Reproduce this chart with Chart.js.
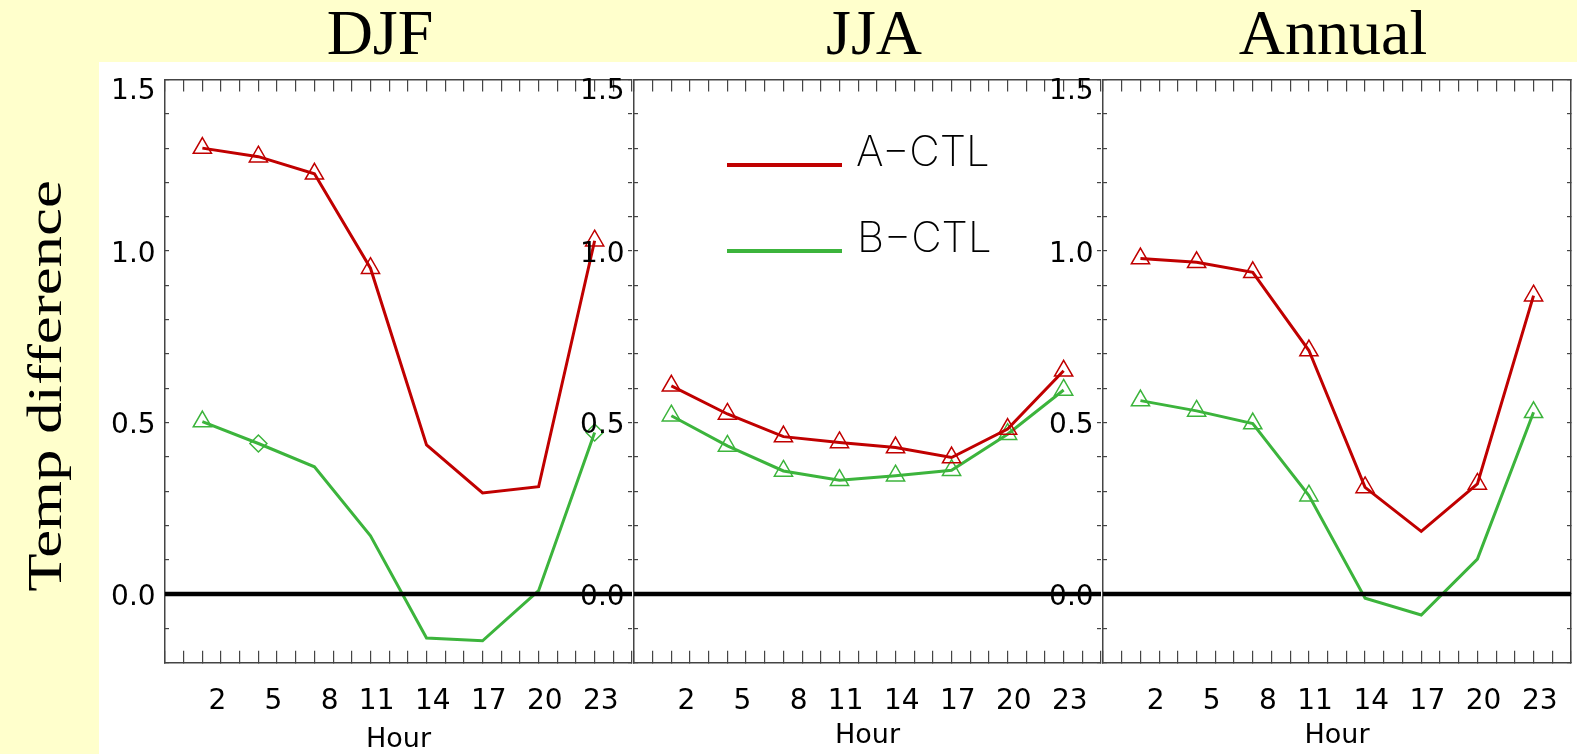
<!DOCTYPE html>
<html>
<head>
<meta charset="utf-8">
<title>Temp difference by hour</title>
<script src="https://cdn.jsdelivr.net/npm/chart.js@4.4.1/dist/chart.umd.min.js"></script>
<style>
  html, body { margin: 0; padding: 0; }
  body { width: 1577px; height: 754px; background: #ffffcc; position: relative; overflow: hidden; }
  #white { position: absolute; left: 99px; top: 62px; right: 0; bottom: 0; background: #fff; }
  .panel { position: absolute; top: 62px; height: 692px; }
  .title { position: absolute; top: 1px; font-family: 'Liberation Serif', 'Times New Roman', serif; font-size: 64px; line-height: 64px; white-space: nowrap; transform: translateX(-50%); color: #000; }
  #ylabel { position: absolute; left: 45px; top: 386px; font-family: 'Liberation Serif', 'Times New Roman', serif; font-size: 48px; line-height: 48px; white-space: nowrap; transform: translate(-50%, -50%) rotate(-90deg) scaleX(1.31); }
  .key-line { position: absolute; height: 4px; width: 115px; left: 727px; }
  .key-text { position: absolute; font-family: 'Inter', 'DejaVu Sans', sans-serif; font-weight: 200; font-size: 42px; line-height: 42px; white-space: nowrap; color: #000; }
</style>
</head>
<body>
<div id="white"></div>
<div id="ylabel">Temp difference</div>

<script>
const hours = [2, 5, 8, 11, 14, 17, 20, 23];
const seasons = ['DJF', 'JJA', 'Annual'];
const seriesNames = ['A−CTL', 'B−CTL'];

const djfA = [1.30, 1.275, 1.225, 0.95, 0.435, 0.295, 0.313, 1.03];
const djfB = [0.503, 0.439, 0.371, 0.17, -0.128, -0.136, 0.01, 0.471];
const jjaA = [0.607, 0.525, 0.459, 0.442, 0.427, 0.398, 0.481, 0.651];
const jjaB = [0.520, 0.432, 0.359, 0.332, 0.345, 0.361, 0.466, 0.595];
const annA = [0.978, 0.967, 0.938, 0.71, 0.311, 0.183, 0.321, 0.870];
const annB = [0.564, 0.534, 0.497, 0.287, -0.012, -0.061, 0.102, 0.530];

// marker at each hour: t = triangle, d = diamond, '' = none
const djfAMarks = ['t', 't', 't', 't', '', '', '', 't'];
const djfBMarks = ['t', 'd', '', '', '', '', '', 'd'];
const jjaAMarks = ['t', 't', 't', 't', 't', 't', 't', 't'];
const jjaBMarks = ['t', 't', 't', 't', 't', 't', 't', 't'];
const annAMarks = ['t', 't', 't', 't', 't', '', 't', 't'];
const annBMarks = ['t', 't', 't', 't', '', '', '', 't'];

const hourTicks = [2, 5, 8, 11, 14, 17, 20, 23];
const tempTicks = ['0.0', '0.5', '1.0', '1.5'];
const hourRange = [0, 25];
const tempRange = [-0.2, 1.5];
const zeroLine = [0, 0];

const RED = '#c00000';
const GREEN = '#3cb43c';
const AXIS = '#444';

const panels = [
  { name: seasons[0], a: djfA, b: djfB, aMarks: djfAMarks, bMarks: djfBMarks },
  { name: seasons[1], a: jjaA, b: jjaB, aMarks: jjaAMarks, bMarks: jjaBMarks },
  { name: seasons[2], a: annA, b: annB, aMarks: annAMarks, bMarks: annBMarks }
];
const panelLeft = [165, 634, 1103];
const panelWidth = [469, 469, 470];
const titleCenter = [380, 874, 1333];
const hourPadBottom = [0.7, 4.7, 4.7];

Chart.defaults.font.family = "'DejaVu Sans', sans-serif";
Chart.defaults.color = '#000';

function fixSize(prop, size) {
  return s => {
    s[prop] = size;
    s.paddingLeft = s.paddingRight = s.paddingTop = s.paddingBottom = 0;
  };
}

function series(label, vals, marks, color) {
  const radius = c => (marks[c.dataIndex] === 'd' ? 8.5 : marks[c.dataIndex] ? 10.5 : 0);
  return {
    label: label,
    data: hours.map((h, i) => ({ x: h, y: vals[i] })),
    borderColor: color,
    borderWidth: 3,
    backgroundColor: 'transparent',
    tension: 0,
    pointBorderColor: color,
    pointBackgroundColor: 'transparent',
    pointBorderWidth: 1.5,
    pointStyle: c => (marks[c.dataIndex] === 'd' ? 'rectRot' : 'triangle'),
    pointRadius: radius,
    pointHoverRadius: radius
  };
}

const gridInward = len => ({
  display: true,
  drawOnChartArea: false,
  drawTicks: true,
  tickLength: len,
  color: AXIS,
  lineWidth: 1.2
});
const border = { display: true, color: AXIS, width: 1.5 };

panels.forEach((p, k) => {
  const title = document.createElement('div');
  title.className = 'title';
  title.style.left = titleCenter[k] + 'px';
  title.textContent = p.name;
  document.body.appendChild(title);

  const wrap = document.createElement('div');
  wrap.className = 'panel';
  wrap.style.left = (panelLeft[k] - 80) + 'px';
  wrap.style.width = (panelWidth[k] + 90) + 'px';
  const canvas = document.createElement('canvas');
  wrap.appendChild(canvas);
  document.body.appendChild(wrap);

  const lastPanel = k === panels.length - 1;

  new Chart(canvas, {
    type: 'line',
    data: {
      datasets: [
        {
          label: 'zero',
          data: hourRange.map((h, i) => ({ x: h, y: zeroLine[i] })),
          borderColor: '#000',
          borderWidth: 4.5,
          pointRadius: 0,
          pointHoverRadius: 0
        },
        series(seriesNames[0], p.a, p.aMarks, RED),
        series(seriesNames[1], p.b, p.bMarks, GREEN)
      ]
    },
    options: {
      responsive: true,
      maintainAspectRatio: false,
      animation: false,
      events: [],
      layout: { padding: 0 },
      plugins: { legend: { display: false }, tooltip: { enabled: false } },
      scales: {
        x: {
          type: 'linear',
          position: 'bottom',
          min: hourRange[0],
          max: hourRange[1],
          grid: gridInward(-12),
          border: border,
          ticks: {
            stepSize: 1,
            maxTicksLimit: 100,
            autoSkip: false,
            maxRotation: 0,
            minRotation: 0,
            align: 'end',
            labelOffset: 24,
            padding: 37,
            font: { size: 28, lineHeight: 1 },
            callback: v => (hourTicks.includes(v) ? String(v) : '')
          },
          title: {
            display: true,
            text: 'Hour',
            font: { size: 27, lineHeight: 1 },
            padding: { top: 0, bottom: hourPadBottom[k] }
          },
          afterFit: fixSize('height', 91.3)
        },
        x2: {
          type: 'linear',
          position: 'top',
          min: hourRange[0],
          max: hourRange[1],
          grid: gridInward(-12),
          border: border,
          ticks: { display: false, stepSize: 1, maxTicksLimit: 100, autoSkip: false },
          afterFit: fixSize('height', 17.5)
        },
        y: {
          type: 'linear',
          position: 'left',
          min: tempRange[0],
          max: tempRange[1],
          grid: gridInward(-4),
          border: border,
          ticks: {
            stepSize: 0.1,
            autoSkip: false,
            padding: 13.4,
            labelOffset: 3.5,
            font: { size: 28, lineHeight: '18px' },
            callback: v => {
              const t = Math.round(v * 10);
              if (t % 5 !== 0) return '';
              const label = tempTicks[t / 5];
              return t / 5 === tempTicks.length - 1 ? ['', label] : label;
            }
          },
          afterFit: fixSize('width', 80)
        },
        y2: {
          type: 'linear',
          position: 'right',
          min: tempRange[0],
          max: tempRange[1],
          grid: gridInward(-4),
          border: { display: lastPanel, color: AXIS, width: 1.5 },
          ticks: { display: false, stepSize: 0.1, autoSkip: false },
          afterFit: fixSize('width', 10)
        }
      }
    }
  });
});

// legend inside the JJA panel
const keyColors = [RED, GREEN];
const keyLineTop = [163, 248.7];
const keyTextPos = [[856, 130], [857, 216]];
seriesNames.forEach((name, i) => {
  const line = document.createElement('div');
  line.className = 'key-line';
  line.style.top = keyLineTop[i] + 'px';
  line.style.background = keyColors[i];
  document.body.appendChild(line);
  const txt = document.createElement('div');
  txt.className = 'key-text';
  txt.style.left = keyTextPos[i][0] + 'px';
  txt.style.top = keyTextPos[i][1] + 'px';
  txt.textContent = name;
  document.body.appendChild(txt);
});
</script>
</body>
</html>
